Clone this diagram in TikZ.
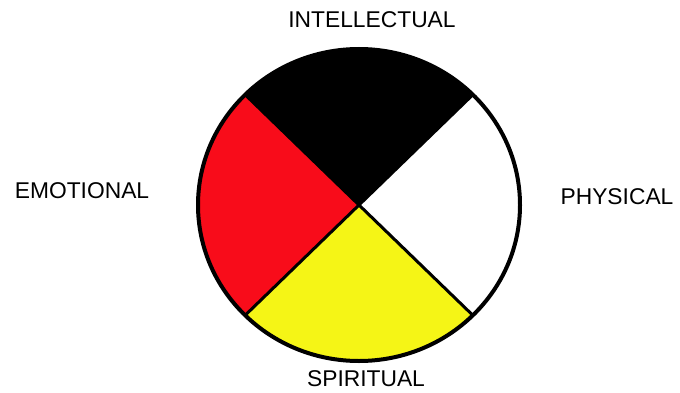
\documentclass[tikz,border=0pt]{standalone}
\usepackage{fontspec}
\setmainfont{Liberation Sans}
\usepackage{tikz}
\usetikzlibrary{positioning, calc}

\definecolor{wheelred}{RGB}{248,12,26}
\definecolor{wheelyellow}{RGB}{245,245,22}

\tikzset{
  label text/.style={inner sep=0pt, font=\fontsize{22.8}{26}\selectfont},
  wheel line/.style={line width=3pt, line cap=round},
}

\begin{document}
\begin{tikzpicture}[x=1pt, y=1pt]

            \useasboundingbox (0,0) rectangle (680,392);

            % centro de la rueda
            \coordinate (C) at (359,187);

            % cuadrantes
            \fill[black] (C) -- +(45:161 and 156) arc[start angle=45, end angle=135, x radius=161, y radius=156] -- cycle;
            \fill[wheelred] (C) -- +(135:161 and 156) arc[start angle=135, end angle=225, x radius=161, y radius=156] -- cycle;
            \fill[wheelyellow] (C) -- +(225:161 and 156) arc[start angle=225, end angle=315, x radius=161, y radius=156] -- cycle;
            \fill[white] (C) -- +(315:161 and 156) arc[start angle=315, end angle=405, x radius=161, y radius=156] -- cycle;

            % diagonales
            \coordinate (NE) at ($(C)+(45:161 and 156)$);
            \coordinate (NW) at ($(C)+(135:161 and 156)$);
            \coordinate (SW) at ($(C)+(225:161 and 156)$);
            \coordinate (SE) at ($(C)+(315:161 and 156)$);
            \draw[wheel line] (NE) -- (SW);
            \draw[wheel line] (NW) -- (SE);

            % borde
            \draw[line width=4pt] (C) ellipse[x radius=161, y radius=156];

            % etiquetas
            \node[label text] (intel) at (372,372) {INTELLECTUAL};
            \node[label text] (emo) at (82,201) {EMOTIONAL};
            \node[label text] (phys) at (617,195) {PHYSICAL};
            \node[label text] (spir) at (366,13) {SPIRITUAL};
\end{tikzpicture}
\end{document}
